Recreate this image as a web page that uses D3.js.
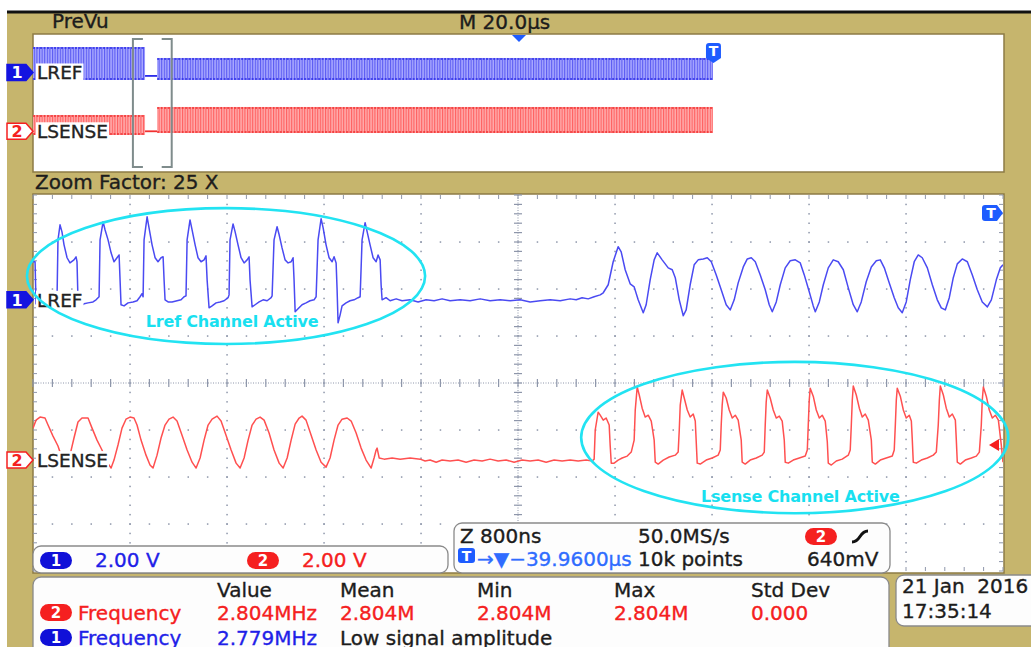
<!DOCTYPE html>
<html>
<head>
<meta charset="utf-8">
<script src="https://cdn.jsdelivr.net/npm/d3@7"></script>
<style>
html, body { margin: 0; padding: 0; background: #fff; overflow: hidden; }
svg { display: block; }
text { font-family: "DejaVu Sans", sans-serif; }
.scopetxt { stroke-width: 0.35px; paint-order: stroke; }
</style>
</head>
<body>
<div id="scope"></div>
<script>
/* ---------------- scope settings / data ---------------- */
const timePerDivNs = 800        // zoomed window, 10 divisions
const voltsPerDiv = 2
const ch1Position = 1.77        // divisions above centre
const ch2Position = -1.64
const triggerLevelV = 0.64      // ch2 trigger level
const prevuSpanUs = 200         // M 20.0us x 10 div

// LREF (ch1) trace: [time ns, volts]
const lrefTrace = [
  [0,1.62],[17,1.62],[25,-0.17],[58,-0.26],[124,-0.13],[190,0],[198,0],[206,2.55],[223,3.19],[239,2.89],[256,2.34],[281,1.79],[305,1.57],[338,1.70],[355,1.83],[363,1.62],[371,0],[380,-0.30],[421,-0.17],[454,-0.13],[495,-0.09],[520,0],[545,0.13],
  [553,2.55],[578,3.32],[594,2.98],[619,2.55],[644,2.0],[668,1.62],[693,1.79],[710,1.91],[718,0.85],[726,-0.21],[751,-0.26],[784,-0.13],[825,-0.09],[858,-0.04],[883,0.13],[899,0.26],[908,0.13],
  [916,2.55],[941,3.53],[957,3.06],[982,2.34],[1007,1.79],[1031,1.62],[1056,1.79],[1073,1.83],[1081,0.85],[1089,0],[1114,-0.09],[1147,-0.09],[1188,-0.04],[1221,0],[1246,0.13],[1262,0.17],
  [1271,2.55],[1295,3.40],[1312,2.98],[1337,2.34],[1361,1.79],[1386,1.62],[1411,1.70],[1427,1.87],[1436,0.85],[1452,-0.34],[1477,-0.26],[1510,-0.13],[1543,-0.09],[1576,-0.04],[1609,0.09],[1617,0.21],
  [1625,2.55],[1650,3.23],[1667,2.89],[1691,2.34],[1716,1.79],[1741,1.57],[1766,1.70],[1782,1.83],[1790,0.85],[1807,-0.30],[1832,-0.21],[1865,-0.09],[1898,0],[1931,-0.04],[1964,0.09],[1972,0.17],
  [1988,2.55],[2013,3.11],[2030,2.77],[2054,2.21],[2079,1.70],[2104,1.57],[2129,1.62],[2145,1.79],[2153,0.85],[2162,-0.51],[2186,-0.38],[2219,-0.21],[2252,-0.13],[2285,-0.04],[2318,0],[2335,0.13],
  [2351,2.55],[2376,3.45],[2393,3.06],[2417,2.34],[2442,1.79],[2467,1.62],[2483,1.83],[2500,1.57],[2508,0.43],[2516,-0.98],[2533,-0.64],[2549,-0.26],[2582,-0.13],[2615,-0.04],[2648,0],[2681,0.09],[2698,0.13],
  [2714,2.55],[2739,3.28],[2756,2.89],[2780,2.34],[2805,1.79],[2830,1.62],[2846,1.91],[2863,1.70],[2871,0.64],[2879,0],[2912,0.09],
  [2945,-0.04],[2995,0.04],[3044,-0.04],[3110,0],[3176,-0.09],[3242,0],[3308,-0.04],[3374,0.04],[3440,-0.04],[3523,0],[3605,-0.04],[3688,0.04],[3770,-0.04],[3853,0],[3935,-0.04],[4018,0],[4100,-0.09],[4183,-0.04],[4265,0],[4348,-0.04],[4430,0.04],[4480,0],[4529,0.09],[4579,0.04],[4628,0.13],[4678,0.21],[4703,0.30],
  [4744,0.64],[4785,1.62],[4826,2.26],[4851,2.04],[4884,1.28],[4925,0.68],[4958,0.55],[4991,0],[5033,-0.55],[5057,-0.21],[5090,0.85],[5123,1.70],[5148,2.0],[5189,1.70],[5239,1.36],[5272,1.28],[5297,0.94],[5330,0],[5363,-0.68],[5387,-0.43],
  [5420,0.64],[5453,1.49],[5486,1.70],[5528,1.74],[5561,1.79],[5594,1.62],[5635,1.06],[5676,0.43],[5717,-0.21],[5750,-0.43],[5783,0],[5816,0.72],[5858,1.40],[5891,1.74],[5924,1.79],[5957,1.62],[5998,1.06],[6039,0.43],[6072,-0.21],[6097,-0.51],
  [6130,-0.09],[6163,0.64],[6204,1.36],[6245,1.66],[6287,1.70],[6328,1.57],[6361,1.06],[6402,0.34],[6435,-0.26],[6452,-0.51],[6485,-0.09],[6518,0.64],[6559,1.36],[6600,1.70],[6641,1.62],[6683,1.28],[6724,0.51],[6765,-0.21],[6798,-0.51],
  [6831,-0.09],[6872,0.77],[6914,1.40],[6955,1.66],[6988,1.70],[7021,1.36],[7062,0.72],[7103,0.09],[7136,-0.34],[7169,-0.55],[7202,-0.09],[7235,0.85],[7268,1.62],[7301,1.91],[7334,1.79],[7376,1.36],[7417,0.64],[7458,0],[7491,-0.34],[7524,-0.43],
  [7557,0.09],[7590,0.94],[7623,1.53],[7664,1.74],[7706,1.62],[7747,1.06],[7788,0.43],[7829,-0.09],[7871,-0.30],[7904,0],[7945,0.85],[7978,1.36],[8000,1.49]
]

// LSENSE (ch2) trace: [time ns, volts]
const lsenseTrace = [
  [0,1.36],[25,1.70],[58,1.83],[99,1.79],[124,1.49],[165,1.02],[206,0.60],[239,0.09],[272,-0.34],[305,0.21],[338,0.94],[371,1.62],[404,1.79],[454,1.79],[487,1.36],[528,0.85],[569,0.43],[611,-0.09],[644,-0.34],
  [668,0],[701,0.64],[734,1.36],[767,1.74],[800,1.83],[833,1.79],[858,1.49],[891,0.85],[932,0.21],[965,-0.21],[990,-0.34],
  [1023,0.21],[1056,0.94],[1089,1.49],[1122,1.74],[1155,1.83],[1188,1.66],[1229,1.06],[1271,0.43],[1312,-0.09],[1345,-0.34],
  [1378,0.09],[1411,0.85],[1444,1.49],[1477,1.74],[1518,1.87],[1551,1.66],[1592,1.06],[1634,0.43],[1675,-0.13],[1708,-0.34],
  [1741,0.09],[1774,0.85],[1807,1.49],[1840,1.74],[1873,1.83],[1906,1.70],[1947,1.15],[1988,0.43],[2030,-0.13],[2063,-0.34],
  [2096,0.09],[2129,0.85],[2162,1.53],[2195,1.79],[2219,1.87],[2252,1.70],[2294,1.06],[2335,0.43],[2376,-0.09],[2417,-0.30],
  [2450,0.09],[2483,0.85],[2516,1.49],[2549,1.74],[2591,1.79],[2624,1.66],[2665,1.15],[2706,0.51],[2747,0],[2789,-0.34],
  [2813,0.09],[2830,0.43],[2838,0.51],[2855,0.09],[2896,0.04],[2962,0.09],[3028,0.04],[3110,0.09],[3193,0.04],[3234,-0.04],[3275,0],[3325,-0.09],[3374,0],[3440,-0.04],[3506,0],[3572,-0.09],[3638,0],[3704,-0.04],[3770,0.04],[3836,-0.04],[3902,0],[3968,-0.09],[4034,0],[4100,-0.04],[4166,0],[4232,-0.09],[4298,0],[4364,-0.04],[4430,0],[4496,-0.04],[4562,0],[4612,-0.04],
  [4628,0.04],[4637,1.28],[4661,2.04],[4678,1.91],[4703,1.70],[4727,1.79],[4752,1.49],[4760,0.64],[4769,-0.13],[4793,-0.13],[4826,0],[4859,0.09],[4901,0.17],[4934,0.34],
  [4958,0.85],[4967,2.13],[4983,3.11],[5000,2.77],[5024,2.21],[5049,1.83],[5074,1.91],[5099,1.66],[5123,0.85],[5132,-0.09],[5156,-0.17],[5198,0],[5247,0.13],[5297,0.21],[5321,0.34],
  [5330,1.28],[5338,2.34],[5354,2.98],[5371,2.64],[5396,2.13],[5420,1.83],[5445,1.96],[5462,1.66],[5470,0.77],[5478,-0.13],[5503,-0.17],[5552,0],[5602,0.09],[5651,0.21],[5668,0.43],
  [5676,1.49],[5684,2.34],[5693,2.89],[5717,2.64],[5742,2.13],[5767,1.79],[5792,1.91],[5816,1.70],[5841,0.85],[5849,-0.09],[5874,-0.17],[5915,0],[5965,0.09],[6014,0.21],[6031,0.34],
  [6039,1.49],[6047,2.47],[6056,2.98],[6080,2.64],[6105,2.13],[6130,1.79],[6155,1.87],[6179,1.66],[6196,0.85],[6204,-0.09],[6229,-0.13],[6270,0],[6320,0.09],[6369,0.17],[6386,0.43],
  [6394,1.49],[6402,2.55],[6410,3.06],[6435,2.72],[6460,2.13],[6485,1.79],[6509,1.91],[6534,1.66],[6551,0.77],[6559,-0.13],[6584,-0.21],[6625,-0.04],[6674,0.04],[6724,0.21],[6740,0.43],
  [6749,1.49],[6757,2.55],[6765,3.15],[6790,2.77],[6815,2.21],[6839,1.83],[6864,1.96],[6889,1.70],[6914,0.85],[6922,-0.09],[6947,-0.17],[6988,0],[7037,0.09],[7087,0.17],[7103,0.43],
  [7112,1.49],[7120,2.55],[7128,3.06],[7153,2.72],[7178,2.13],[7202,1.79],[7227,1.91],[7244,1.66],[7252,0.85],[7260,-0.09],[7285,-0.13],[7326,0],[7376,0.09],[7425,0.21],[7450,0.34],
  [7466,1.49],[7475,2.55],[7483,3.15],[7508,2.77],[7532,2.21],[7557,1.83],[7582,1.96],[7607,1.70],[7615,0.85],[7623,-0.09],[7648,-0.17],[7689,0],[7739,0.09],[7780,0.17],[7805,0.34],
  [7821,1.49],[7829,2.55],[7838,3.11],[7862,2.72],[7887,2.13],[7912,1.79],[7937,1.91],[7962,1.70],[7986,0.64],[8000,-0.09]
]

// PreVu overview: envelope of each stretch of the record (us, volts)
const prevuLref = [
  { t0: 0, t1: 23.1, lo: -0.87, hi: 2.95 },
  { t0: 23.1, t1: 25.6, lo: -0.4, hi: -0.4 },
  { t0: 25.6, t1: 140.2, lo: -0.87, hi: 1.68 }
]
const prevuLsense = [
  { t0: 0, t1: 23.1, lo: -0.43, hi: 1.89 },
  { t0: 23.1, t1: 25.6, lo: 0, hi: 0 },
  { t0: 25.6, t1: 140.2, lo: -0.2, hi: 2.82 }
]
const zoomWindowUs = [20.6, 28.6]
const triggerUs = 140.2

// callouts (time ns, vertical divisions)
const annotations = [
  { text: "Lref Channel Active", t0: -50, t1: 3234, top: 3.72, bottom: 0.83, tx: 1642, ty: 1.19 },
  { text: "Lsense Channel Active", t0: 4521, t1: 8044, top: 0.45, bottom: -2.77, tx: 6328, ty: -2.53 }
]

const channelScales = [ { ch: 1, text: "2.00 V" }, { ch: 2, text: "2.00 V" } ]
const acqRow1 = ["Z 800ns", "50.0MS/s"]
const acqRow2 = ["\u2192\u25BC\u221239.9600\u00B5s", "10k points", "640mV"]
const measHeaders = ["Value", "Mean", "Min", "Max", "Std Dev"]
const measRows = [
  { ch: 2, name: "Frequency", cells: ["2.804MHz", "2.804M", "2.804M", "2.804M", "0.000"] },
  { ch: 1, name: "Frequency", cells: ["2.779MHz", "Low signal amplitude"] }
]
const dateLines = ["21 Jan  2016", "17:35:14"]

/* ---------------- layout ---------------- */
const W = 1031, H = 647
const olive = "#c6b56d", frame = "#8d7b45"
const gridCol = "#8e96aa"
const ink = "#1c1c1c"
const blue = "#1f1fe8", red = "#f52020"
const traceBlue = "#4a4af2", traceRed = "#ff5050"
const chColor = { 1: blue, 2: red }

const plot = { left: 33, right: 1003, top: 195, bottom: 571 }
const prevu = { left: 33, right: 1003, top: 34, bottom: 172 }

const svg = d3.select("#scope").append("svg")
    .attr("width", W).attr("height", H)

const defs = svg.append("defs")
defs.append("clipPath").attr("id", "plotClip")
    .append("rect")
    .attr("x", plot.left).attr("y", plot.top)
    .attr("width", plot.right - plot.left).attr("height", plot.bottom - plot.top)

function hatch(id, bg, fg) {
    let p = defs.append("pattern").attr("id", id)
        .attr("width", 2.6).attr("height", 4).attr("patternUnits", "userSpaceOnUse")
    p.append("rect").attr("width", 2.6).attr("height", 4).attr("fill", bg)
    p.append("rect").attr("width", 1.1).attr("height", 4).attr("fill", fg)
}
hatch("hatchBlue", "#a9a9ff", "#5a5af2")
hatch("hatchRed", "#ffacac", "#ff6060")

// scope text helper: slightly heavier than plain DejaVu, like the Tek font
function stext(g, x0, y0, txt, col, size) {
    return g.append("text").attr("class", "scopetxt")
        .attr("x", x0).attr("y", y0)
        .attr("font-size", size || 20)
        .attr("fill", col).attr("stroke", col)
        .text(txt)
}

// background
svg.append("rect").attr("width", W).attr("height", H).attr("fill", "#fff")
svg.append("rect").attr("x", 7).attr("y", 12).attr("width", W - 7).attr("height", H - 12).attr("fill", olive)
svg.append("line").attr("x1", 7).attr("x2", W).attr("y1", 12).attr("y2", 12)
    .attr("stroke", "#111").attr("stroke-width", 3)

/* ---------------- scales ---------------- */
const x = d3.scaleLinear().domain([0, 10 * timePerDivNs]).range([plot.left, plot.right])
const yDiv = d3.scaleLinear().domain([-4, 4]).range([plot.bottom, plot.top])
const yVolt = pos => v => yDiv(pos + v / voltsPerDiv)

const xp = d3.scaleLinear().domain([0, prevuSpanUs]).range([prevu.left, prevu.right])
const ypDiv = d3.scaleLinear().domain([-4, 4]).range([prevu.bottom, prevu.top])
const ypVolt = pos => v => ypDiv(pos + v / voltsPerDiv)

/* ---------------- helpers ---------------- */
function channelMarker(g, y, ch) {
    let filled = ch === 1
    g.append("path")
        .attr("d", `M7,${y - 8}H26L33,${y}L26,${y + 8}H7Z`)
        .attr("fill", filled ? "#1414e0" : "#fff")
        .attr("stroke", filled ? "#1414e0" : red)
        .attr("stroke-width", 1.5)
    g.append("text").attr("x", 17).attr("y", y + 6)
        .attr("text-anchor", "middle").attr("font-size", 16).attr("font-weight", "bold")
        .attr("fill", filled ? "#fff" : red).text(ch)
}

function channelLabel(g, y, txt) {
    let t = stext(g, 37, y + 7, txt, "#222", 18.5)
    let b = t.node().getBBox()
    g.insert("rect", "text:last-child")
        .attr("x", b.x - 1).attr("y", b.y + 1).attr("width", b.width + 2).attr("height", b.height - 2)
        .attr("fill", "#fff")
}

function pill(g, x0, y0, ch) {
    g.append("rect").attr("x", x0).attr("y", y0).attr("width", 32).attr("height", 17)
        .attr("rx", 8.5).attr("fill", ch === 1 ? "#1010d8" : red)
    g.append("text").attr("x", x0 + 16).attr("y", y0 + 14).attr("text-anchor", "middle")
        .attr("font-size", 15).attr("font-weight", "bold").attr("fill", "#fff").text(ch)
}

function tIcon(g, x0, y0, w, h, dir) {
    // blue "T" flag: dir = "right" | "down" | "none"
    let d
    if (dir === "right") d = `M${x0 + 3},${y0}H${x0 + w - 6}L${x0 + w},${y0 + h / 2}L${x0 + w - 6},${y0 + h}H${x0 + 3}Q${x0},${y0 + h} ${x0},${y0 + h - 3}V${y0 + 3}Q${x0},${y0} ${x0 + 3},${y0}Z`
    else if (dir === "down") d = `M${x0 + 3},${y0}H${x0 + w - 3}Q${x0 + w},${y0} ${x0 + w},${y0 + 3}V${y0 + h - 5}L${x0 + w / 2},${y0 + h}L${x0},${y0 + h - 5}V${y0 + 3}Q${x0},${y0} ${x0 + 3},${y0}Z`
    else d = `M${x0 + 3},${y0}H${x0 + w - 3}Q${x0 + w},${y0} ${x0 + w},${y0 + 3}V${y0 + h - 3}Q${x0 + w},${y0 + h} ${x0 + w - 3},${y0 + h}H${x0 + 3}Q${x0},${y0 + h} ${x0},${y0 + h - 3}V${y0 + 3}Q${x0},${y0} ${x0 + 3},${y0}Z`
    g.append("path").attr("d", d).attr("fill", "#1e5cff")
    let cx = dir === "right" ? x0 + (w - 5) / 2 + 1 : x0 + w / 2
    let cy = dir === "down" ? y0 + (h - 5) / 2 : y0 + h / 2
    g.append("text").attr("x", cx).attr("y", cy + 5).attr("text-anchor", "middle")
        .attr("font-size", 14).attr("font-weight", "bold").attr("fill", "#fff").text("T")
}

/* ---------------- header ---------------- */
stext(svg, 52, 28, "PreVu", ink)
stext(svg, 459, 29, "M 20.0\u00B5s", ink)
stext(svg, 35, 189, "Zoom Factor: 25 X", ink)

/* ---------------- PreVu overview ---------------- */
const pv = svg.append("g")
pv.append("rect")
    .attr("x", prevu.left).attr("y", prevu.top)
    .attr("width", prevu.right - prevu.left + 1).attr("height", prevu.bottom - prevu.top)
    .attr("fill", "#fff").attr("stroke", frame).attr("stroke-width", 1.5)

// horizontal position marker (centre of record)
let hx = xp(prevuSpanUs / 2) + 1
pv.append("path").attr("d", `M${hx - 7},35L${hx + 7},35L${hx},42Z`).attr("fill", "#1e5cff")

function drawEnvelope(segs, pos, hatchId, edge) {
    let yv = ypVolt(pos)
    segs.forEach(s => {
        if (s.hi === s.lo) {
            pv.append("line")
                .attr("x1", xp(s.t0)).attr("x2", xp(s.t1))
                .attr("y1", yv(s.lo)).attr("y2", yv(s.lo))
                .attr("stroke", edge).attr("stroke-width", 1.8)
        } else {
            pv.append("rect")
                .attr("x", xp(s.t0)).attr("y", yv(s.hi))
                .attr("width", xp(s.t1) - xp(s.t0)).attr("height", yv(s.lo) - yv(s.hi))
                .attr("fill", `url(#${hatchId})`)
            ;[s.hi, s.lo].forEach(v => {
                pv.append("line")
                    .attr("x1", xp(s.t0)).attr("x2", xp(s.t1))
                    .attr("y1", yv(v) + (v === s.hi ? 1 : -1)).attr("y2", yv(v) + (v === s.hi ? 1 : -1))
                    .attr("stroke", edge).attr("stroke-width", 1.4).attr("stroke-dasharray", "2,1.5")
            })
        }
    })
}
drawEnvelope(prevuLref, ch1Position, "hatchBlue", "#2c2ce8")
drawEnvelope(prevuLsense, ch2Position, "hatchRed", "#f03030")

// zoom-window brackets
const bTop = prevu.top + 5, bBot = prevu.bottom - 5
;[[zoomWindowUs[0], 1], [zoomWindowUs[1], -1]].forEach(([t, s]) => {
    let bx = xp(t)
    pv.append("path")
        .attr("d", `M${bx + 10 * s},${bTop}H${bx}V${bBot}H${bx + 10 * s}`)
        .attr("fill", "none").attr("stroke", "#7f8c8c").attr("stroke-width", 2)
})

tIcon(pv, xp(triggerUs) - 7, 43, 15, 20, "down")

channelLabel(pv, ypDiv(ch1Position), "LREF")
channelLabel(pv, ypDiv(ch2Position), "LSENSE")
channelMarker(pv, ypDiv(ch1Position), 1)
channelMarker(pv, ypDiv(ch2Position), 2)

/* ---------------- main zoom display ---------------- */
const main = svg.append("g")
main.append("rect")
    .attr("x", plot.left).attr("y", plot.top - 1)
    .attr("width", plot.right - plot.left + 1).attr("height", plot.bottom - plot.top + 3)
    .attr("fill", "#fff").attr("stroke", frame).attr("stroke-width", 1.5)

const majorT = d3.range(0, 10 * timePerDivNs + 1, timePerDivNs)
const minorT = d3.range(0, 10 * timePerDivNs + 1, timePerDivNs / 5)
const majorD = d3.range(-4, 5)
const minorD = d3.range(-20, 21).map(d => d / 5)
const midT = 5 * timePerDivNs

const grid = main.append("g").attr("fill", gridCol)
// dotted verticals
majorT.filter(t => t !== 0 && t !== midT && t !== 10 * timePerDivNs).forEach(t => {
    grid.selectAll(null).data(minorD.filter(d => Math.abs(d) < 4)).enter().append("rect")
        .attr("x", x(t) - 0.7).attr("y", d => yDiv(d) - 0.7).attr("width", 1.5).attr("height", 1.5)
})
// dotted horizontals
majorD.filter(d => d !== 0 && Math.abs(d) !== 4).forEach(d => {
    grid.selectAll(null).data(minorT.filter(t => t > 0 && t < 10 * timePerDivNs)).enter().append("rect")
        .attr("x", t => x(t) - 0.7).attr("y", yDiv(d) - 0.7).attr("width", 1.5).attr("height", 1.5)
})
// centre cross
const cx0 = x(midT), cy0 = yDiv(0)
main.append("line").attr("x1", plot.left).attr("x2", plot.right).attr("y1", cy0).attr("y2", cy0)
    .attr("stroke", gridCol).attr("stroke-dasharray", "1,1.5")
main.append("line").attr("x1", cx0).attr("x2", cx0).attr("y1", plot.top).attr("y2", plot.bottom)
    .attr("stroke", gridCol).attr("stroke-dasharray", "1,1.5")
main.selectAll(null).data(minorT).enter().append("line")
    .attr("x1", t => x(t)).attr("x2", t => x(t))
    .attr("y1", cy0 - 4).attr("y2", cy0 + 4).attr("stroke", gridCol).attr("stroke-width", 1.2)
main.selectAll(null).data(minorD).enter().append("line")
    .attr("x1", cx0 - 4).attr("x2", cx0 + 4)
    .attr("y1", d => yDiv(d)).attr("y2", d => yDiv(d)).attr("stroke", gridCol).attr("stroke-width", 1.2)
// edge ticks
main.selectAll(null).data(minorT).enter().append("line")
    .attr("x1", t => x(t)).attr("x2", t => x(t))
    .attr("y1", plot.top).attr("y2", plot.top + 4).attr("stroke", gridCol)
main.selectAll(null).data(minorT).enter().append("line")
    .attr("x1", t => x(t)).attr("x2", t => x(t))
    .attr("y1", plot.bottom - 4).attr("y2", plot.bottom).attr("stroke", gridCol)
main.selectAll(null).data(minorD).enter().append("line")
    .attr("x1", plot.left).attr("x2", plot.left + 4)
    .attr("y1", d => yDiv(d)).attr("y2", d => yDiv(d)).attr("stroke", gridCol)
main.selectAll(null).data(minorD).enter().append("line")
    .attr("x1", plot.right - 4).attr("x2", plot.right)
    .attr("y1", d => yDiv(d)).attr("y2", d => yDiv(d)).attr("stroke", gridCol)

// traces
const traces = main.append("g").attr("clip-path", "url(#plotClip)")
;[[lrefTrace, ch1Position, traceBlue], [lsenseTrace, ch2Position, traceRed]].forEach(([data, pos, col]) => {
    let yv = yVolt(pos)
    let line = d3.line().x(d => x(d[0])).y(d => yv(d[1]))
    traces.append("path").datum(data)
        .attr("d", line).attr("fill", "none")
        .attr("stroke", col).attr("stroke-width", 1.5).attr("stroke-linejoin", "round")
})

channelLabel(main, yDiv(ch1Position), "LREF")
channelLabel(main, yDiv(ch2Position), "LSENSE")
channelMarker(main, yDiv(ch1Position), 1)
channelMarker(main, yDiv(ch2Position), 2)

// trigger position (off-screen right) and trigger level markers
tIcon(main, plot.right - 21, 205, 21, 16, "right")
let ty = yVolt(ch2Position)(triggerLevelV)
main.append("path").attr("d", `M${plot.right - 14},${ty}L${plot.right - 4},${ty - 6}V${ty + 6}Z`).attr("fill", red)

// callouts
annotations.forEach(a => {
    main.append("ellipse")
        .attr("cx", (x(a.t0) + x(a.t1)) / 2).attr("cy", (yDiv(a.top) + yDiv(a.bottom)) / 2)
        .attr("rx", (x(a.t1) - x(a.t0)) / 2).attr("ry", (yDiv(a.bottom) - yDiv(a.top)) / 2)
        .attr("fill", "none").attr("stroke", "#22e3f2").attr("stroke-width", 2.6)
    main.append("text").attr("x", x(a.tx)).attr("y", yDiv(a.ty))
        .attr("text-anchor", "middle").attr("font-family", "Lato, sans-serif")
        .attr("font-weight", "bold").attr("font-size", 16).attr("letter-spacing", -0.2)
        .attr("fill", "#18e0f0").text(a.text)
})

/* ---------------- readout boxes ---------------- */
const info = svg.append("g")
function box(x0, y0, w, h) {
    info.append("rect").attr("x", x0).attr("y", y0).attr("width", w).attr("height", h)
        .attr("rx", 8).attr("fill", "#fdfdfd").attr("stroke", "#8a8a8a").attr("stroke-width", 1.3)
}

// vertical scale box
box(33, 546, 415, 27)
const scaleX = [40, 247]
channelScales.forEach((c, i) => {
    pill(info, scaleX[i], 552, c.ch)
    stext(info, scaleX[i] + 55, 567, c.text, chColor[c.ch])
})

// acquisition box
box(454, 523, 436, 50)
const acqX = [460, 638, 807]
acqRow1.forEach((s, i) => stext(info, acqX[i], 543, s, ink))
pill(info, 805, 528, 2)
info.append("path").attr("d", "M852,542C861,542 859,531 868,531")
    .attr("fill", "none").attr("stroke", "#111").attr("stroke-width", 3)
tIcon(info, 458, 548, 17, 15, "none")
stext(info, 477, 566, acqRow2[0], "#2f6cff")
stext(info, acqX[1], 566, acqRow2[1], ink)
stext(info, acqX[2], 566, acqRow2[2], ink)

// measurement box
box(33, 577, 856, 90)
const colX = [217, 340, 477, 614, 751]
measHeaders.forEach((h, i) => stext(info, colX[i], 597, h, ink))
measRows.forEach((r, j) => {
    let yb = 620 + j * 25
    pill(info, 40, yb - 16, r.ch)
    stext(info, 78, yb, r.name, chColor[r.ch])
    r.cells.forEach((c, i) => {
        stext(info, colX[i], yb, c, (r.ch === 1 && i > 0) ? ink : chColor[r.ch])
    })
})

// date box
box(896, 575, 150, 51)
dateLines.forEach((s, i) => stext(info, 902, 593 + i * 25, s, ink).style("white-space", "pre"))
</script>
</body>
</html>
